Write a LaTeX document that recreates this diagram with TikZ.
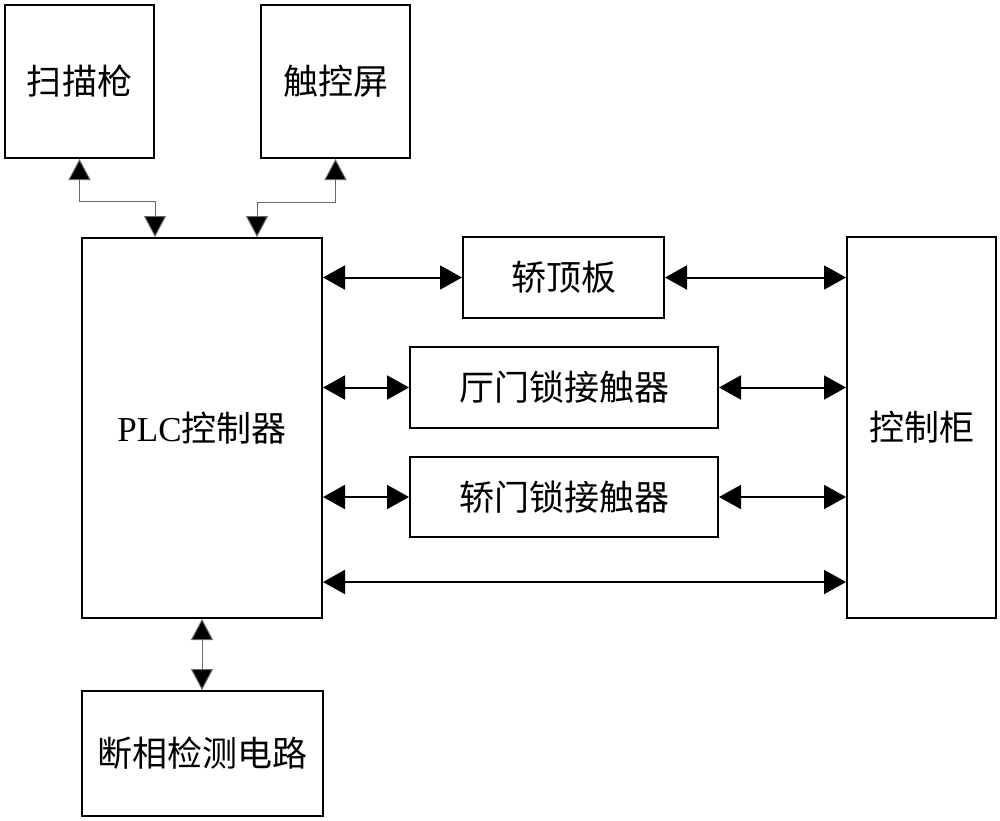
\documentclass[tikz,border=0pt]{standalone}
\usepackage{fontspec}
\setmainfont{Liberation Serif}
\newfontfamily\cjk{Noto Sans CJK SC}
\usetikzlibrary{arrows.meta}
\tikzset{
  blk/.style={draw=black, line width=2pt, fill=white, inner sep=0pt, font=\fontsize{35}{40}\selectfont\cjk},
  hconn/.style={line width=2pt, draw=black, {Triangle[length=22pt,width=24pt]}-{Triangle[length=22pt,width=24pt]}},
  vconn/.style={line width=1pt, draw=black!60, {Triangle[length=21pt,width=22pt,fill=black]}-{Triangle[length=21pt,width=22pt,fill=black]}},
}
\begin{document}
\begin{tikzpicture}[x=1pt,y=-1pt]
\useasboundingbox (0,0) rectangle (1000,820);
\node[blk, minimum width=149pt, minimum height=153pt] (scan) at (79.5,81.5) {扫描枪};
\node[blk, minimum width=149pt, minimum height=153pt] (touch) at (335.5,81.5) {触控屏};
\node[blk, minimum width=240pt, minimum height=380pt] (plc) at (202,428) {{\rmfamily PLC}控制器};
\node[blk, minimum width=201pt, minimum height=81pt] (jdb) at (563.5,277.5) {轿顶板};
\node[blk, minimum width=308pt, minimum height=81pt] (tm) at (564,387.5) {厅门锁接触器};
\node[blk, minimum width=308pt, minimum height=80pt] (jm) at (564,497) {轿门锁接触器};
\node[blk, minimum width=149pt, minimum height=381pt] (kzg) at (921.5,427.5) {控制柜};
\node[blk, minimum width=241pt, minimum height=125pt] (dx) at (202.5,753.5) {断相检测电路};
\coordinate (bl) at (0,582);
% top connectors
\draw[vconn] (scan.south) -- ++(0,42) -| ([xshift=-47pt]plc.north);
\draw[vconn] (touch.south) -- ++(0,43) -| ([xshift=55pt]plc.north);
% horizontal connectors
\draw[hconn] (plc.east |- jdb.west) -- (jdb.west);
\draw[hconn] (jdb.east) -- (kzg.west |- jdb.east);
\draw[hconn] (plc.east |- tm.west) -- (tm.west);
\draw[hconn] (tm.east) -- (kzg.west |- tm.east);
\draw[hconn] (plc.east |- jm.west) -- (jm.west);
\draw[hconn] (jm.east) -- (kzg.west |- jm.east);
\draw[hconn] (plc.east |- bl) -- (kzg.west |- bl);
% bottom
\draw[vconn] (plc.south) -- (plc.south |- dx.north);
\end{tikzpicture}
\end{document}
